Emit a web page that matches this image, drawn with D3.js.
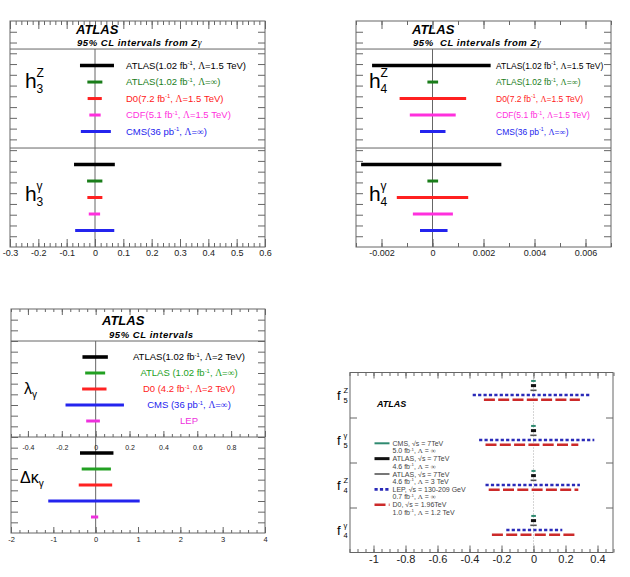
<!DOCTYPE html>
<html>
<head>
<meta charset="utf-8">
<script src="https://cdn.jsdelivr.net/npm/d3@7"></script>
<style>
  body { margin: 0; background: #fff; }
  text { font-family: "Liberation Sans", Arial, sans-serif; }
</style>
</head>
<body>
<div id="chart-area"></div>
<script>
// ---- values ----
const hLabels = [
  "ATLAS(1.02 fb^-1, Λ=1.5 TeV)",
  "ATLAS(1.02 fb^-1, Λ=∞)",
  "D0(7.2 fb^-1, Λ=1.5 TeV)",
  "CDF(5.1 fb^-1, Λ=1.5 TeV)",
  "CMS(36 pb^-1, Λ=∞)"
];
const hColors = ["#000000", "#1a7d1a", "#ff2020", "#ff30dd", "#2424ee"];
const h3Z = [[-0.053, 0.067], [-0.027, 0.026], [-0.026, 0.024], [-0.020, 0.020], [-0.050, 0.056]];
const h3G = [[-0.074, 0.070], [-0.028, 0.026], [-0.027, 0.026], [-0.022, 0.018], [-0.070, 0.068]];
const h4Z = [[-0.00237, 0.00228], [-0.0002, 0.00022], [-0.00129, 0.00132], [-0.00089, 0.00091], [-0.00049, 0.00051]];
const h4G = [[-0.0028, 0.0027], [-0.0002, 0.00022], [-0.0014, 0.0014], [-0.00077, 0.0008], [-0.00049, 0.00059]];
const h3Ticks = [-0.3, -0.2, -0.1, 0, 0.1, 0.2, 0.3, 0.4, 0.5, 0.6];
const h4Ticks = [-0.002, 0, 0.002, 0.004, 0.006];

const tgcLabels = [
  "ATLAS(1.02 fb^-1, Λ=2 TeV)",
  "ATLAS (1.02 fb^-1, Λ=∞)",
  "D0 (4.2 fb^-1, Λ=2 TeV)",
  "CMS (36 pb^-1, Λ=∞)",
  "LEP"
];
const tgcColors = ["#000000", "#22a022", "#ff2222", "#2424ee", "#ee30dd"];
const lambdaG = [[-0.078, 0.072], [-0.062, 0.056], [-0.080, 0.064], [-0.178, 0.167], [-0.056, 0.025]];
const dKappaG = [[-0.37, 0.42], [-0.33, 0.36], [-0.40, 0.39], [-1.12, 1.04], [-0.11, 0.06]];
const lambdaTicks = [-0.4, -0.2, 0, 0.2, 0.4, 0.6, 0.8];
const dKappaTicks = [-2, -1, 0, 1, 2, 3, 4];

// f couplings, order: f5Z, f5γ, f4Z, f4γ
const fSup = ["Z", "γ", "Z", "γ"];
const fSub = ["5", "5", "4", "4"];
const fExperiments = ["CMS, √s = 7TeV", "ATLAS, √s = 7TeV", "ATLAS, √s = 7TeV", "LEP, √s = 130-209 GeV", "D0, √s = 1.96TeV"];
const fDetails = ["5.0 fb^-1, Λ = ∞", "4.6 fb^-1, Λ = ∞", "4.6 fb^-1, Λ = 3 TeV", "0.7 fb^-1, Λ = ∞", "1.0 fb^-1, Λ = 1.2 TeV"];
const fCMS = [[-0.015, 0.014], [-0.015, 0.014], [-0.013, 0.013], [-0.014, 0.015]];
const fATLASinf = [[-0.016, 0.016], [-0.016, 0.016], [-0.015, 0.015], [-0.016, 0.016]];
const fATLAS3 = [[-0.019, 0.019], [-0.020, 0.019], [-0.018, 0.018], [-0.020, 0.020]];
const fLEP = [[-0.38, 0.35], [-0.34, 0.38], [-0.30, 0.29], [-0.17, 0.18]];
const fD0 = [[-0.31, 0.29], [-0.30, 0.28], [-0.28, 0.28], [-0.26, 0.26]];
const fTicks = [-1, -0.8, -0.6, -0.4, -0.2, 0, 0.2, 0.4];

// ---- drawing ----
const frameColor = "#666";
const serif = "'Liberation Serif', 'DejaVu Serif', serif";
const fmt = d => String(+(+d).toFixed(4));

const svg = d3.select("#chart-area").append("svg")
  .attr("width", 630).attr("height", 577);

const minorValues = function(dom, step) {
  const start = Math.ceil(dom[0] / step - 1e-6) * step;
  return d3.range(start, dom[1] + step * 1e-3, step);
};

const addTicks = function(g, axisFn, scale, values, len, at, opt = {}) {
  const axis = axisFn(scale).tickValues(values).tickSize(-len).tickSizeOuter(0)
    .tickPadding(opt.pad || 3)
    .tickFormat(opt.labels ? fmt : "");
  const a = g.append("g").attr("transform", at).call(axis);
  a.select(".domain").remove();
  a.selectAll(".tick line").attr("stroke", frameColor);
  a.selectAll(".tick text")
    .attr("font-size", opt.fs || 9)
    .attr("fill", "#222")
    .attr("font-family", "'Liberation Sans', Arial, sans-serif");
  return a;
};

const richText = function(sel, str, fs) {
  const parts = str.split(/(\^-1|Λ|∞)/).filter(p => p !== "");
  let up = false;
  parts.forEach(p => {
    if (p === "^-1") {
      sel.append("tspan").attr("dy", -fs * 0.4).attr("font-size", fs * 0.62).text("-1");
      up = true;
    } else {
      const t = sel.append("tspan").text(p);
      if (up) { t.attr("dy", fs * 0.4); up = false; }
      if (p === "Λ" || p === "∞") t.attr("font-family", serif);
    }
  });
};

const frame = function(g, f) {
  g.append("rect")
    .attr("x", f.x0).attr("y", f.y0)
    .attr("width", f.x1 - f.x0).attr("height", f.y1 - f.y0)
    .attr("fill", "none").attr("stroke", frameColor).attr("stroke-width", 1);
};

const hline = function(g, x0, x1, y) {
  g.append("line").attr("x1", x0).attr("x2", x1).attr("y1", y).attr("y2", y)
    .attr("stroke", frameColor).attr("stroke-width", 1);
};

const sideTicks = function(g, f) {
  const t = d3.scaleLinear().domain([0, 21]).range([f.y1, f.y0]);
  const vals = d3.range(1, 21);
  addTicks(g, d3.axisLeft, t, vals, 7, `translate(${f.x0},0)`);
  addTicks(g, d3.axisRight, t, vals, 7, `translate(${f.x1},0)`);
};

const drawIntervals = function(g, data, x, y, rowStart, colors, widthFn) {
  g.append("g").selectAll("line")
    .data(data)
    .join("line")
    .attr("x1", d => x(d[0]))
    .attr("x2", d => x(d[1]))
    .attr("y1", (d, i) => y(rowStart + i))
    .attr("y2", (d, i) => y(rowStart + i))
    .attr("stroke", (d, i) => colors[i])
    .attr("stroke-width", (d, i) => widthFn(i));
};

const header = function(g, x, y, title, fs1, fs2) {
  g.append("text").attr("x", x).attr("y", y)
    .attr("font-size", fs1).attr("font-weight", "bold").attr("font-style", "italic")
    .text("ATLAS");
  const sub = g.append("text").attr("x", title.x).attr("y", title.y)
    .attr("font-size", fs2).attr("font-weight", "bold").attr("font-style", "italic")
    .attr("letter-spacing", 0.55)
    .attr("xml:space", "preserve");
  sub.append("tspan").text(title.text);
  if (title.gamma) sub.append("tspan").attr("font-family", serif).attr("font-weight", "normal").text("γ");
};

const hSymbol = function(g, x, y, sup, sub) {
  g.append("text").attr("x", x).attr("y", y).attr("font-size", 21).text("h");
  g.append("text").attr("x", x + 11.5).attr("y", y - 11).attr("font-size", 12)
    .attr("font-family", sup === "γ" ? serif : null).text(sup);
  g.append("text").attr("x", x + 11.5).attr("y", y + 5).attr("font-size", 12).text(sub);
};

// ---- h3 / h4 panels ----
const drawHPanel = function(cfg) {
  const g = svg.append("g").attr("class", cfg.name);
  const f = cfg.frame;
  const x = d3.scaleLinear().domain(cfg.xDomain).range([f.x0, f.x1]);
  const y = d3.scaleLinear().domain([-1.7, 12]).range([f.y0, f.y1]);

  frame(g, f);
  hline(g, f.x0, f.x1, y(0));
  hline(g, f.x0, f.x1, y(6));
  g.append("line").attr("x1", x(0)).attr("x2", x(0)).attr("y1", y(0)).attr("y2", y(12))
    .attr("stroke", frameColor);

  const minors = minorValues(cfg.xDomain, cfg.minorStep);
  addTicks(g, d3.axisBottom, x, minors, 4, `translate(0,${f.y1})`);
  addTicks(g, d3.axisBottom, x, cfg.ticks, 8, `translate(0,${f.y1})`, { labels: true, fs: 9, pad: 3 });
  addTicks(g, d3.axisTop, x, minors, 4, `translate(0,${f.y0})`);
  addTicks(g, d3.axisTop, x, cfg.ticks, 8, `translate(0,${f.y0})`);
  sideTicks(g, f);

  header(g, cfg.atlasX, 33.5, { x: cfg.atlasX + 1, y: 46, text: cfg.subtitle, gamma: true }, 13, 9.5);

  const w = i => (i === 0 ? 3.6 : 3);
  drawIntervals(g, cfg.zData, x, y, 1, hColors, w);
  drawIntervals(g, cfg.gData, x, y, 7, hColors, w);

  g.append("g").selectAll("text")
    .data(hLabels)
    .join("text")
    .attr("x", cfg.labelX)
    .attr("y", (d, i) => y(1 + i) + cfg.labelFs * 0.36)
    .attr("font-size", cfg.labelFs)
    .attr("fill", (d, i) => hColors[i])
    .each(function(d) { richText(d3.select(this), d, cfg.labelFs); });

  hSymbol(g, cfg.symX, y(2.35), "Z", cfg.index);
  hSymbol(g, cfg.symX, y(9.2), "γ", cfg.index);
};

drawHPanel({
  name: "h3", frame: { x0: 10, x1: 265, y0: 21, y1: 247 },
  xDomain: [-0.3, 0.6], ticks: h3Ticks, minorStep: 0.02,
  zData: h3Z, gData: h3G, labelX: 126, labelFs: 9.5,
  atlasX: 76, subtitle: "95% CL intervals from Z", symX: 25, index: "3"
});

drawHPanel({
  name: "h4", frame: { x0: 356, x1: 611, y0: 21, y1: 247 },
  xDomain: [-0.003, 0.007], ticks: h4Ticks, minorStep: 0.001,
  zData: h4Z, gData: h4G, labelX: 496, labelFs: 8.5,
  atlasX: 412, subtitle: "95%  CL intervals from Z", symX: 369, index: "4"
});

// ---- lambda / delta kappa panel ----
(function() {
  const g = svg.append("g").attr("class", "tgc");
  const f = { x0: 11, x1: 265, y0: 309, y1: 533 };
  const xl = d3.scaleLinear().domain([-0.5, 1.0]).range([f.x0, f.x1]);
  const xk = d3.scaleLinear().domain([-2, 4]).range([f.x0, f.x1]);
  const y = d3.scaleLinear().domain([-2, 12]).range([f.y0, f.y1]);

  frame(g, f);
  hline(g, f.x0, f.x1, y(0));
  hline(g, f.x0, f.x1, y(6));
  g.append("line").attr("x1", xk(0)).attr("x2", xk(0)).attr("y1", y(0)).attr("y2", y(12))
    .attr("stroke", frameColor);

  const lMinor = minorValues([-0.5, 1.0], 0.05);
  const lMajor = minorValues([-0.5, 1.0], 0.2);
  addTicks(g, d3.axisTop, xl, lMinor, 3, `translate(0,${f.y0})`);
  addTicks(g, d3.axisTop, xl, lMajor, 6, `translate(0,${f.y0})`);
  addTicks(g, d3.axisBottom, xl, lMinor, 3, `translate(0,${y(6)})`);
  addTicks(g, d3.axisBottom, xl, lMajor, 6, `translate(0,${y(6)})`);
  addTicks(g, d3.axisTop, xl, lambdaTicks, 0, `translate(0,${y(6)})`, { labels: true, fs: 7, pad: -13 });

  const kMinor = minorValues([-2, 4], 0.2);
  addTicks(g, d3.axisBottom, xk, kMinor, 3, `translate(0,${f.y1})`);
  addTicks(g, d3.axisBottom, xk, dKappaTicks, 6, `translate(0,${f.y1})`, { labels: true, fs: 7.5, pad: 4 });
  sideTicks(g, f);

  header(g, 102, 324.5, { x: 109, y: 338, text: "95% CL intervals" }, 13, 9.5);

  const w = i => (i === 0 ? 3.6 : 3);
  drawIntervals(g, lambdaG, xl, y, 1, tgcColors, w);
  drawIntervals(g, dKappaG, xk, y, 7, tgcColors, w);

  g.append("g").selectAll("text")
    .data(tgcLabels)
    .join("text")
    .attr("x", 189)
    .attr("text-anchor", "middle")
    .attr("y", (d, i) => y(1 + i) + 3.4)
    .attr("font-size", 9.5)
    .attr("fill", (d, i) => tgcColors[i])
    .each(function(d) { richText(d3.select(this), d, 9.5); });

  const lam = g.append("text").attr("x", 24).attr("y", y(3.3)).attr("font-family", serif);
  lam.append("tspan").attr("font-size", 16).text("λ");
  lam.append("tspan").attr("font-size", 10).attr("dy", 4).text("γ");
  const dk = g.append("text").attr("x", 20).attr("y", y(8.85)).attr("font-family", serif);
  dk.append("tspan").attr("font-size", 16).text("Δκ");
  dk.append("tspan").attr("font-size", 10).attr("dy", 4).text("γ");
})();

// ---- f4 / f5 panel ----
(function() {
  const g = svg.append("g").attr("class", "fpanel");
  const f = { x0: 350, x1: 613, y0: 372.5, y1: 552.5 };
  const x = d3.scaleLinear().domain([-1.15, 0.5]).range([349.5, 613.5]);
  const y = d3.scaleLinear().domain([0, 38.4]).range([f.y0, f.y1]);
  const groupH = 9.6;

  frame(g, f);
  g.append("line").attr("x1", x(0)).attr("x2", x(0)).attr("y1", f.y0).attr("y2", f.y1)
    .attr("stroke", "#aaa").attr("stroke-dasharray", "1,2");

  const minors = minorValues([-1.15, 0.5], 0.05);
  addTicks(g, d3.axisBottom, x, minors, 3.5, `translate(0,${f.y1})`);
  addTicks(g, d3.axisBottom, x, fTicks, 7, `translate(0,${f.y1})`, { labels: true, fs: 11, pad: 3 });
  addTicks(g, d3.axisTop, x, minors, 3.5, `translate(0,${f.y0})`);
  addTicks(g, d3.axisTop, x, fTicks, 6, `translate(0,${f.y0})`);

  const dividers = [1, 2, 3].map(k => k * groupH);
  addTicks(g, d3.axisLeft, y, dividers, 7, `translate(${f.x0},0)`);
  addTicks(g, d3.axisRight, y, dividers, 7, `translate(${f.x1},0)`);

  const series = [
    { data: fCMS, color: "#2f8a70", width: 2, dash: null },
    { data: fATLASinf, color: "#111", width: 3, dash: null },
    { data: fATLAS3, color: "#555", width: 1.6, dash: null },
    { data: fLEP, color: "#2a2ab8", width: 2.6, dash: "3.2,2.2" },
    { data: fD0, color: "#cc2a2a", width: 2.6, dash: "11,3.3" }
  ];

  series.forEach((s, k) => {
    g.append("g").selectAll("line")
      .data(s.data)
      .join("line")
      .attr("x1", d => x(d[0]))
      .attr("x2", d => x(d[1]))
      .attr("y1", (d, i) => y(i * groupH + 1.8 + k))
      .attr("y2", (d, i) => y(i * groupH + 1.8 + k))
      .attr("stroke", s.color)
      .attr("stroke-width", s.width)
      .attr("stroke-dasharray", s.dash);
  });

  // coupling labels
  fSup.forEach((sup, i) => {
    const yb = y(i * groupH + groupH / 2) + 5;
    g.append("text").attr("x", 337).attr("y", yb).attr("font-size", 13).text("f");
    g.append("text").attr("x", 343.5).attr("y", yb - 7).attr("font-size", 7.5)
      .attr("font-family", sup === "γ" ? serif : null).text(sup);
    g.append("text").attr("x", 343.5).attr("y", yb + 2.5).attr("font-size", 7.5).text(fSub[i]);
  });

  g.append("text").attr("x", 377).attr("y", 407)
    .attr("font-size", 9).attr("font-weight", "bold").attr("font-style", "italic")
    .text("ATLAS");

  // legend
  const leg = g.append("g").attr("class", "legend");
  const ly = i => 443.3 + i * 15.35;
  series.forEach((s, i) => {
    leg.append("line")
      .attr("x1", 374.5).attr("x2", 389.5)
      .attr("y1", ly(i)).attr("y2", ly(i))
      .attr("stroke", s.color)
      .attr("stroke-width", s.width)
      .attr("stroke-dasharray", s.dash);
    leg.append("text").attr("x", 392.5).attr("y", ly(i) + 2.5)
      .attr("font-size", 7).attr("fill", "#444")
      .text(fExperiments[i]);
    const t = leg.append("text").attr("x", 392.5).attr("y", ly(i) + 10)
      .attr("font-size", 7).attr("fill", "#444");
    richText(t, fDetails[i], 7);
  });
})();
</script>
</body>
</html>
